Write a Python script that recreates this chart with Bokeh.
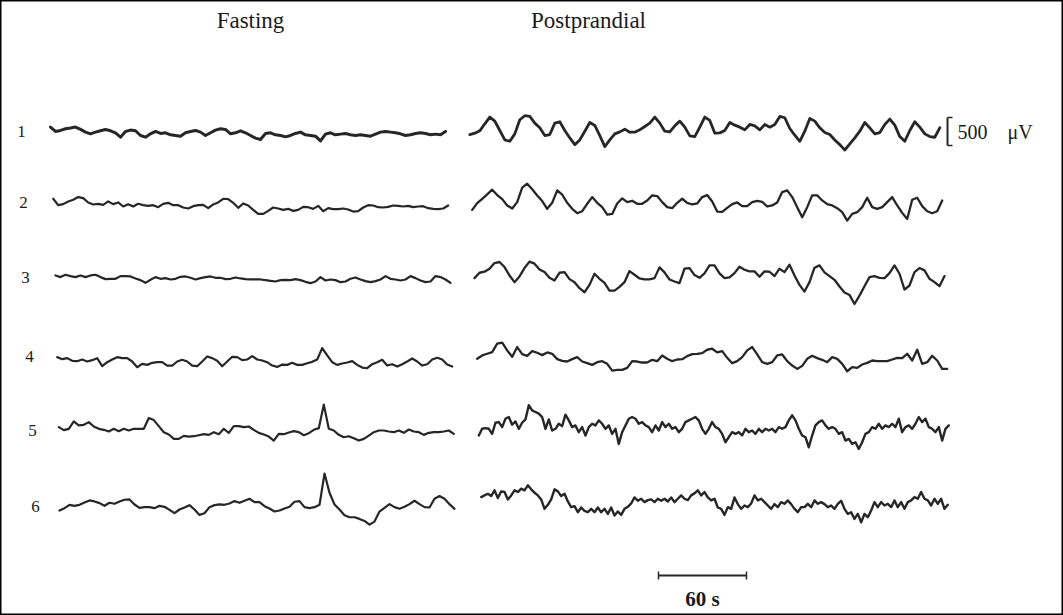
import numpy as np
from bokeh.plotting import figure
from bokeh.models import Range1d
from bokeh.embed import file_html
from bokeh.resources import INLINE
from bokeh.core.properties import value

# ---------------- data (deflections in microvolts, sampled uniformly) ----------------
rows = ["1", "2", "3", "4", "5", "6"]
titles = ["Fasting", "Postprandial"]
amp_scale_uV = 500
time_scale_s = 60

fast_1 = [120,42,60,90,102,120,78,30,0,30,54,78,54,18,-60,42,66,54,-30,-60,0,42,6,18,-18,-30,-42,18,42,60,30,-30,18,66,90,78,0,18,54,18,-30,-78,-102,6,18,-18,-30,-54,-30,6,30,-18,-30,-42,-126,-6,18,-18,-6,6,-18,-30,-18,-30,-42,-6,30,42,30,18,0,-30,-18,6,18,6,-18,-6,-18,42]
post_1 = [-42,-18,24,150,270,198,30,-138,-162,-30,222,294,282,162,78,-60,-42,162,186,30,-102,-222,-138,18,174,120,-60,-258,-138,-30,6,54,0,0,42,102,162,270,162,18,6,114,198,90,-66,-78,90,270,210,-18,-12,30,174,126,90,42,138,114,42,138,90,138,282,258,66,-54,-162,18,246,198,78,-6,-42,-138,-222,-318,-210,-102,18,174,78,-30,-6,138,234,126,-78,-162,30,186,90,-30,-78,-90,78]
fast_2 = [138,24,42,90,120,168,150,72,36,48,30,90,42,72,0,42,0,48,24,12,24,-12,48,66,24,24,-18,-36,6,24,30,-30,36,72,138,132,66,-24,54,18,-60,-132,-132,-78,-18,-36,-60,-42,-78,-60,-6,-12,-42,12,-84,-30,-48,-48,-36,-54,-90,-84,-18,24,18,-12,-18,-6,18,12,0,12,-12,0,6,-30,-42,-48,-36,18]
post_2 = [-108,12,90,168,252,156,84,-30,-84,30,288,360,258,150,48,-90,18,240,162,18,-90,-168,-132,0,120,18,-60,-192,-180,6,96,30,54,0,0,60,150,138,30,-60,-78,18,90,18,-12,6,120,156,42,-138,-144,-72,-6,24,-42,-42,30,54,36,-48,-30,24,210,240,120,-60,-240,-60,150,150,60,-6,-30,-78,-150,-300,-180,-150,-60,108,-60,-90,-60,30,120,-30,-162,-270,72,108,-42,-132,-168,-132,60]
fast_3 = [60,30,72,48,30,60,30,60,72,30,-6,0,0,48,48,42,6,-24,-72,-18,30,0,12,-12,0,36,42,18,-12,12,30,42,18,18,-6,0,24,6,-6,-12,-12,-12,-24,-36,-48,-24,-18,-24,-6,-24,-54,-78,-48,30,-30,-12,-24,-60,-48,0,24,-12,-42,-60,-42,-12,48,0,-12,-30,-12,48,12,-30,-60,-48,48,30,-12,-72]
post_3 = [12,108,126,180,282,300,210,60,-60,42,192,306,270,168,120,18,-30,108,120,-6,-60,-168,-240,-108,90,0,-72,-210,-210,-144,-60,138,72,6,-12,-12,12,204,114,-12,-48,-78,180,192,66,18,96,240,240,96,12,24,102,216,162,132,132,36,132,126,48,180,120,252,60,-108,-228,-60,198,240,114,48,-18,-138,-246,-288,-450,-300,-132,30,48,18,12,102,240,90,-192,-120,120,192,150,0,-60,-132,48]
fast_4 = [60,24,42,-6,-12,18,-18,6,42,-102,-30,18,60,42,42,-18,-120,-60,-78,-42,-30,-30,-90,-90,-18,12,-18,-90,-102,-18,72,42,-6,-102,-18,66,60,6,18,78,18,0,-30,-90,-114,-72,-78,-42,-78,-78,-48,-24,18,222,90,-30,-78,-54,-36,-12,-78,-126,-138,-66,-30,12,-90,-66,-108,-66,-18,36,-18,-90,-66,18,48,18,-72,-108]
post_4 = [30,90,120,150,300,318,180,66,240,114,84,168,138,96,144,120,24,-6,-18,24,60,-18,-48,-78,-30,-12,-60,-180,-168,-168,-132,-12,-18,-36,-36,12,-12,90,30,-12,18,24,78,114,120,132,192,210,144,168,48,-48,-12,60,180,240,108,-30,-60,-30,90,108,-12,-90,-150,-96,30,84,42,12,-30,60,30,-60,-192,-120,-132,-72,-42,0,-12,-12,-12,18,48,42,120,0,192,-60,-30,84,0,-150,-150]
fast_5 = [60,6,30,162,90,102,150,72,30,12,-18,30,-12,30,0,30,30,30,222,186,78,-30,-72,-150,-150,-96,-108,-102,-84,-66,-78,-30,-66,30,-42,78,78,60,72,12,-42,-72,-108,-180,-60,-66,-36,-12,-30,-84,-48,12,42,462,30,0,-78,-120,-102,-138,-180,-150,-90,-30,0,0,-18,-30,0,-42,18,-18,-30,-78,-42,-30,-30,-18,0,-60]
post_5 = [-120,0,12,0,-90,108,120,30,180,210,72,132,0,108,168,420,330,300,270,210,0,168,-30,0,90,48,252,150,30,60,-60,30,-120,30,90,60,150,90,0,60,-90,0,-270,-60,60,180,210,180,90,120,60,30,-60,60,-30,120,30,90,0,30,-60,0,120,150,180,210,150,0,-90,0,120,30,0,-90,-240,-150,-60,-90,-60,-120,0,-60,-30,-90,0,-60,0,-30,0,-60,30,0,30,150,240,150,0,-120,-150,-330,-120,60,120,150,60,0,30,0,-90,-60,-210,-180,-270,-240,-360,-240,-90,-60,30,0,90,0,60,30,90,30,180,-60,30,60,0,90,210,120,180,30,0,-60,30,-210,0,60]
fast_6 = [-102,-60,0,-18,0,42,78,60,30,-18,36,18,60,90,96,6,-54,-42,-42,-60,-18,-36,-90,-150,-84,-48,-6,-84,-180,-150,-42,-6,6,0,24,66,36,72,108,48,48,-24,-66,-120,-102,-66,-36,54,66,-42,-60,-42,0,558,216,6,-84,-186,-222,-222,-252,-288,-354,-300,-120,-54,12,-42,-72,-36,12,72,12,-42,-48,108,156,108,12,-72]
post_6 = [120,150,180,138,240,102,222,210,78,150,240,210,270,240,330,258,198,150,78,-90,-18,78,258,222,138,180,42,-60,-42,-150,-66,-126,-150,-90,-150,-66,-150,-90,-180,-66,-210,-138,-198,-90,-54,6,114,54,90,30,66,78,30,90,54,90,42,114,30,90,150,90,66,150,186,240,150,210,114,60,90,-66,-90,-198,-60,-90,114,-6,-90,-30,-60,6,150,60,90,30,-30,-90,-6,-60,30,0,60,-6,-90,-150,-60,-60,0,-60,60,0,30,-6,-60,-30,-90,0,54,-90,-180,-150,-270,-180,-330,-180,-240,-120,30,-60,30,-30,0,-60,60,-60,30,-90,30,60,120,90,210,90,60,-30,90,0,90,-90,-18]

# ---------------- layout (pixels) ----------------
W, H = 1063, 615
SEC_PX = 88 / 60          # pixels per second
UV_PX = 28 / 500          # pixels per microvolt

def X(px):
    return px / SEC_PX

def Y(py):
    return -py / UV_PX

# (series, start px, end px, baseline px, line width)
traces = [
    (fast_1, 50.0, 445.0, 133.3, 3.0), (post_1, 469.3, 939.3, 131.7, 2.8),
    (fast_2, 52.7, 447.7, 206.0, 2.2), (post_2, 471.7, 941.7, 203.3, 2.3),
    (fast_3, 55.0, 450.0, 278.3, 2.2), (post_3, 474.0, 944.0, 278.3, 2.3),
    (fast_4, 56.7, 451.7, 360.0, 2.2), (post_4, 476.7, 946.7, 360.0, 2.3),
    (fast_5, 58.3, 453.3, 430.0, 2.2), (post_5, 478.3, 948.3, 428.3, 2.4),
    (fast_6, 59.0, 454.0, 504.3, 2.2), (post_6, 480.7, 947.3, 503.3, 2.4),
]
row_label_pos = [(21, 131), (23, 202), (25, 277), (29, 356), (32, 430), (35, 506)]
title_pos = [(250, 20), (588, 20)]

p = figure(width=W, height=H, output_backend="svg", toolbar_location=None,
           x_range=Range1d(0, X(W)), y_range=Range1d(Y(H), 0),
           x_axis_location=None, y_axis_location=None, min_border=0)
p.grid.visible = False
p.outline_line_color = "black"
p.outline_line_width = 2
p.background_fill_color = "white"
p.border_fill_color = "white"

INK = "#262626"
for vals, x0, x1, base, lw in traces:
    v = np.asarray(vals, dtype=float)
    t = np.linspace(X(x0), X(x1), len(v))
    p.line(t, Y(base) + v, line_color=INK, line_width=lw, line_join="round", line_cap="round")

SERIF = value("Liberation Serif")
p.text(x=[X(a) for a, b in title_pos], y=[Y(b) for a, b in title_pos], text=titles,
       text_font=SERIF, text_font_size="23px", text_align="center",
       text_baseline="middle", text_color="#1a1a1a")
p.text(x=[X(a) for a, b in row_label_pos], y=[Y(b) for a, b in row_label_pos], text=rows,
       text_font=SERIF, text_font_size="17px", text_align="center",
       text_baseline="middle", text_color="#1a1a1a")

# amplitude scale bar (500 uV)
bx, by = 947, 145
p.segment(x0=[X(bx)], y0=[Y(by)], x1=[X(bx)], y1=[Y(by) + amp_scale_uV], line_color=INK, line_width=2)
p.segment(x0=[X(bx), X(bx)], y0=[Y(by), Y(by) + amp_scale_uV],
          x1=[X(bx + 5), X(bx + 5)], y1=[Y(by), Y(by) + amp_scale_uV], line_color=INK, line_width=1.5)
p.text(x=[X(957)], y=[Y(131)], text=["500\u00a0\u00a0\u00a0\u00a0\u03bcV"], text_font=SERIF,
       text_font_size="20px", text_align="left", text_baseline="middle", text_color="#1a1a1a")

# time scale bar (60 s)
tx, ty = 658, 575
p.segment(x0=[X(tx)], y0=[Y(ty)], x1=[X(tx) + time_scale_s], y1=[Y(ty)], line_color=INK, line_width=2)
p.segment(x0=[X(tx), X(tx) + time_scale_s], y0=[Y(ty - 4), Y(ty - 4)],
          x1=[X(tx), X(tx) + time_scale_s], y1=[Y(ty + 4), Y(ty + 4)], line_color=INK, line_width=1.5)
p.text(x=[X(tx) + time_scale_s / 2], y=[Y(598)], text=["60 s"], text_font=SERIF,
       text_font_size="21px", text_font_style="bold", text_align="center",
       text_baseline="middle", text_color="#1a1a1a")

open("out.html", "w").write(file_html(p, INLINE))
